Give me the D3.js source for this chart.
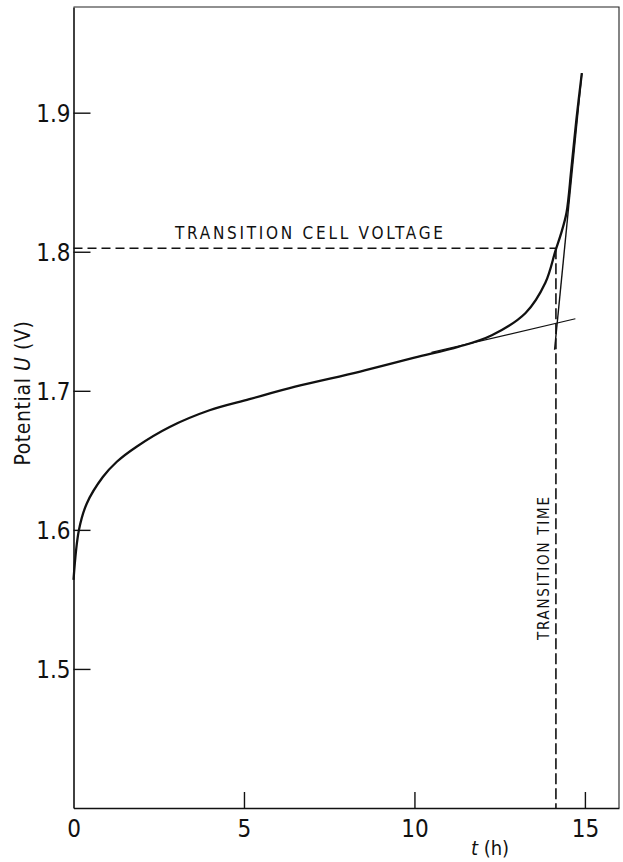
<!DOCTYPE html>
<html>
<head>
<meta charset="utf-8">
<script src="https://cdn.jsdelivr.net/npm/d3@7"></script>
<style>
  body { margin: 0; background: #fff; }
  svg { display: block; }
  .lbl { font-family: "Liberation Sans Narrow", "DejaVu Sans Condensed", sans-serif; fill: #111; }
</style>
</head>
<body>
<svg id="chart" width="623" height="862"></svg>
<script>
// Data ==================================================================

// measured discharge curve, t in hours, U in volts
var timeH      = [0, 0.16, 0.39, 0.86, 1.27, 1.86, 2.82, 3.99, 5.16, 6.5, 8.38, 10.0, 11.3, 12.27, 13.26, 13.84, 14.14, 14.3, 14.46, 14.6, 14.75, 14.91];
var potentialV = [1.564, 1.600, 1.619, 1.638, 1.649, 1.660, 1.674, 1.686, 1.694, 1.703, 1.7137, 1.7238, 1.7317, 1.740, 1.756, 1.7777, 1.801, 1.813, 1.828, 1.859, 1.895, 1.9285];

// hand drawn tangents
var plateauTangentT = [10.5, 14.72];
var plateauTangentV = [1.7276, 1.7518];
var riseTangentT = [14.11, 14.91];
var riseTangentV = [1.7295, 1.9285];

var transitionVoltage = 1.8025;
var transitionTime = 14.15;

var xTicks = [0, 5, 10, 15];
var yTicks = [1.5, 1.6, 1.7, 1.8, 1.9];
var xDomain = [0, 16];
var yDomain = [1.4, 1.976];

// Chart =================================================================

var svg = d3.select("#chart");

var x = d3.scaleLinear().domain(xDomain).range([73.5, 619]);
var y = d3.scaleLinear().domain(yDomain).range([808, 7]);

// frame top / right (thin)
svg.append("path")
	.attr("d", "M" + x(0) + "," + y(yDomain[1]) + "H" + x(xDomain[1]) + "V" + y(yDomain[0]))
	.attr("fill", "none")
	.attr("stroke", "#222")
	.attr("stroke-width", 1.1);

var yAxis = svg.append("g")
	.attr("transform", "translate(" + x(0) + ",0)")
	.call(d3.axisLeft(y).tickValues(yTicks).tickSize(-17).tickSizeOuter(0).tickPadding(3).tickFormat(d3.format(".1f")));

var xAxis = svg.append("g")
	.attr("transform", "translate(0," + y(yDomain[0]) + ")")
	.call(d3.axisBottom(x).tickValues(xTicks).tickSize(-16).tickSizeOuter(0).tickPadding(12).tickFormat(d3.format("d")));

[yAxis, xAxis].forEach(function (ax) {
	ax.select(".domain").attr("stroke", "#111").attr("stroke-width", 1.6);
	ax.selectAll(".tick line").attr("stroke", "#111").attr("stroke-width", 1.4);
	ax.selectAll(".tick text")
		.attr("class", "lbl")
		.attr("font-size", 24)
		.attr("fill", "#111");
});
xAxis.select(".tick line").attr("stroke", "none"); // 0 sits on the frame corner
yAxis.selectAll(".tick text").attr("dy", "0.36em");

// axis titles
var tTitle = svg.append("text")
	.attr("class", "lbl")
	.attr("x", 490)
	.attr("y", 855)
	.attr("text-anchor", "middle")
	.attr("font-size", 20);
tTitle.append("tspan").attr("font-style", "italic").text("t");
tTitle.append("tspan").text(" (h)");

var uTitle = svg.append("text")
	.attr("class", "lbl")
	.attr("transform", "translate(30,393) rotate(-90)")
	.attr("text-anchor", "middle")
	.attr("font-size", 21)
	.attr("letter-spacing", 0.6);
uTitle.append("tspan").text("Potential ");
uTitle.append("tspan").attr("font-style", "italic").text("U");
uTitle.append("tspan").text(" (V)");

// transition dashed guides
svg.append("line")
	.attr("x1", x(0)).attr("x2", x(transitionTime))
	.attr("y1", y(transitionVoltage)).attr("y2", y(transitionVoltage))
	.attr("stroke", "#111")
	.attr("stroke-width", 1.4)
	.attr("stroke-dasharray", "9,5");

svg.append("line")
	.attr("x1", x(transitionTime)).attr("x2", x(transitionTime))
	.attr("y1", y(transitionVoltage)).attr("y2", y(yDomain[0]))
	.attr("stroke", "#111")
	.attr("stroke-width", 1.6)
	.attr("stroke-dasharray", "11,4");

svg.append("text")
	.attr("class", "lbl")
	.attr("x", 175)
	.attr("y", 239)
	.attr("font-size", 17)
	.attr("textLength", 268)
	.attr("lengthAdjust", "spacing")
	.text("TRANSITION  CELL  VOLTAGE");

svg.append("text")
	.attr("class", "lbl")
	.attr("transform", "translate(549,640) rotate(-90)")
	.attr("font-size", 15)
	.attr("textLength", 143)
	.attr("lengthAdjust", "spacing")
	.text("TRANSITION  TIME");

// tangents
var line = d3.line()
	.x(function (d) { return x(d[0]); })
	.y(function (d) { return y(d[1]); });

svg.append("path")
	.datum(d3.zip(plateauTangentT, plateauTangentV))
	.attr("d", line)
	.attr("fill", "none")
	.attr("stroke", "#111")
	.attr("stroke-width", 1.2);

svg.append("path")
	.datum(d3.zip(riseTangentT, riseTangentV))
	.attr("d", line)
	.attr("fill", "none")
	.attr("stroke", "#111")
	.attr("stroke-width", 1.4);

// discharge curve
svg.append("path")
	.datum(d3.zip(timeH, potentialV))
	.attr("d", line.curve(d3.curveCatmullRom.alpha(0.5)))
	.attr("fill", "none")
	.attr("stroke", "#111")
	.attr("stroke-width", 2.3)
	.attr("stroke-linejoin", "round");
</script>
</body>
</html>
